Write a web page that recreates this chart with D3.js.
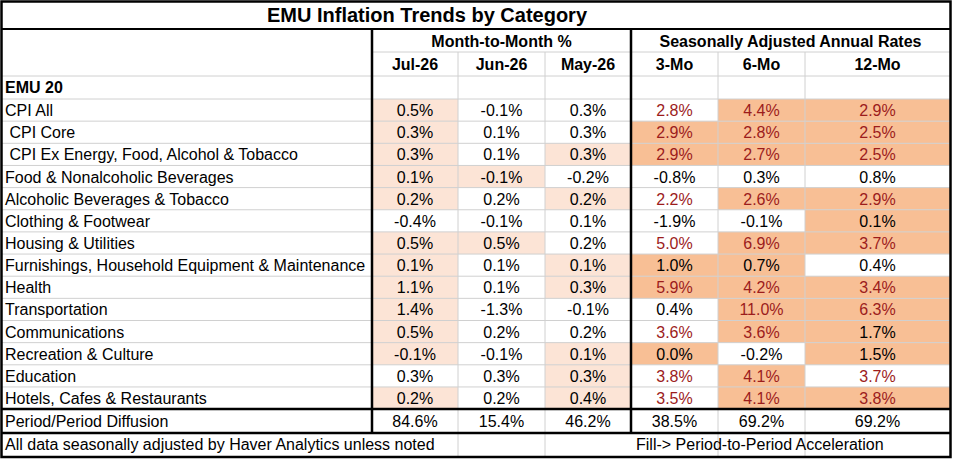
<!DOCTYPE html>
<html><head><meta charset="utf-8">
<script src="https://cdn.jsdelivr.net/npm/d3@7"></script>
<style>body{margin:0;background:#fff}svg{font-family:"Liberation Sans",Arial,sans-serif}</style>
</head><body><svg id="t" width="953" height="459"></svg>
<script>
var categories = ["CPI All"," CPI Core"," CPI Ex Energy, Food, Alcohol & Tobacco","Food & Nonalcoholic Beverages","Alcoholic Beverages & Tobacco","Clothing & Footwear","Housing & Utilities","Furnishings, Household Equipment & Maintenance","Health","Transportation","Communications","Recreation & Culture","Education","Hotels, Cafes & Restaurants"];
var columns = ["Jul-26","Jun-26","May-26","3-Mo","6-Mo","12-Mo"];
var values = [
 [0.5,-0.1,0.3,2.8,4.4,2.9],
 [0.3,0.1,0.3,2.9,2.8,2.5],
 [0.3,0.1,0.3,2.9,2.7,2.5],
 [0.1,-0.1,-0.2,-0.8,0.3,0.8],
 [0.2,0.2,0.2,2.2,2.6,2.9],
 [-0.4,-0.1,0.1,-1.9,-0.1,0.1],
 [0.5,0.5,0.2,5.0,6.9,3.7],
 [0.1,0.1,0.1,1.0,0.7,0.4],
 [1.1,0.1,0.3,5.9,4.2,3.4],
 [1.4,-1.3,-0.1,0.4,11.0,6.3],
 [0.5,0.2,0.2,3.6,3.6,1.7],
 [-0.1,-0.1,0.1,0.0,-0.2,1.5],
 [0.3,0.3,0.3,3.8,4.1,3.7],
 [0.2,0.2,0.4,3.5,4.1,3.8]];
var filled = [
 [1,0,0,0,1,1],[1,0,0,1,1,1],[1,0,1,1,1,1],[1,1,0,0,0,0],[1,0,1,0,1,1],
 [0,0,0,0,0,1],[1,1,0,0,1,1],[1,0,1,1,1,0],[1,0,1,1,1,1],[1,0,0,0,1,1],
 [1,0,0,0,1,1],[1,0,1,1,0,1],[0,0,1,0,1,0],[1,0,1,0,1,1]];
var diffusion = [84.6,15.4,46.2,38.5,69.2,69.2];

var svg = d3.select("#t");
var colX = [2,372,458,545,631,718,805,950];
var x = function(i){return colX[i];};
var rowTop = 99, rowH = 22.15;
var y = d3.scaleLinear().domain([0,categories.length]).range([rowTop,rowTop+rowH*categories.length]);
var grey = "#d0d0d0";

// cells
categories.forEach(function(c,r){
  columns.forEach(function(col,j){
    if(filled[r][j]) svg.append("rect").attr("x",x(j+1)).attr("y",y(r)).attr("width",x(j+2)-x(j+1)).attr("height",rowH)
      .attr("fill", j<3 ? "#fce4d6" : "#f8bf95");
  });
});

// grid lines
function line(x1,y1,x2,y2,c,w){svg.append("line").attr("x1",x1).attr("y1",y1).attr("x2",x2).attr("y2",y2).attr("stroke",c).attr("stroke-width",w);}
for(var r=0;r<=categories.length;r++) line(2,y(r),950,y(r),grey,1);
line(2,76,950,76,grey,1);
line(372,52,950,52,grey,1);
[458,545,718,805].forEach(function(v){line(v,52,v,457,grey,1);});
line(2,29,950,29,"#000",2);
line(372,29,372,433,"#000",2.5);
line(631,29,631,433,"#000",2.5);
line(2,y(categories.length),950,y(categories.length),"#000",2.5);
line(2,433,950,433,"#000",2.5);
svg.append("rect").attr("x",1.5).attr("y",1.5).attr("width",949).attr("height",455.5).attr("fill","none").attr("stroke","#000").attr("stroke-width",2.5);

function text(t,tx,ty,anchor,opt){opt=opt||{};svg.append("text").attr("x",tx).attr("y",ty).attr("text-anchor",anchor)
  .attr("font-size",opt.size||16).attr("font-weight",opt.bold?"bold":"normal").attr("fill",opt.fill||"#000").attr("xml:space","preserve").text(t);}
text("EMU Inflation Trends by Category",427,22,"middle",{size:20,bold:true});
text("Month-to-Month %",(372+631)/2,47,"middle",{bold:true});
text("Seasonally Adjusted Annual Rates",(631+950)/2,47,"middle",{bold:true});
columns.forEach(function(c,j){text(c,(x(j+1)+x(j+2))/2,70,"middle",{bold:true});});
text("EMU 20",5,93,"start",{bold:true});
categories.forEach(function(c,r){
  var ty=y(r)+rowH/2+6;
  text(c,5,ty,"start");
  values[r].forEach(function(v,j){
    text(v.toFixed(1)+"%",(x(j+1)+x(j+2))/2,ty,"middle",{fill:(j>=3&&v>=2)?"#9c1c1c":"#000"});
  });
});
var dy=(y(categories.length)+433)/2+6;
text("Period/Period Diffusion",5,dy,"start");
diffusion.forEach(function(v,j){text(v.toFixed(1)+"%",(x(j+1)+x(j+2))/2,dy,"middle");});
text("All data seasonally adjusted by Haver Analytics unless noted",5,450,"start");
text("Fill-> Period-to-Period Acceleration",636,450,"start");
</script></body></html>
